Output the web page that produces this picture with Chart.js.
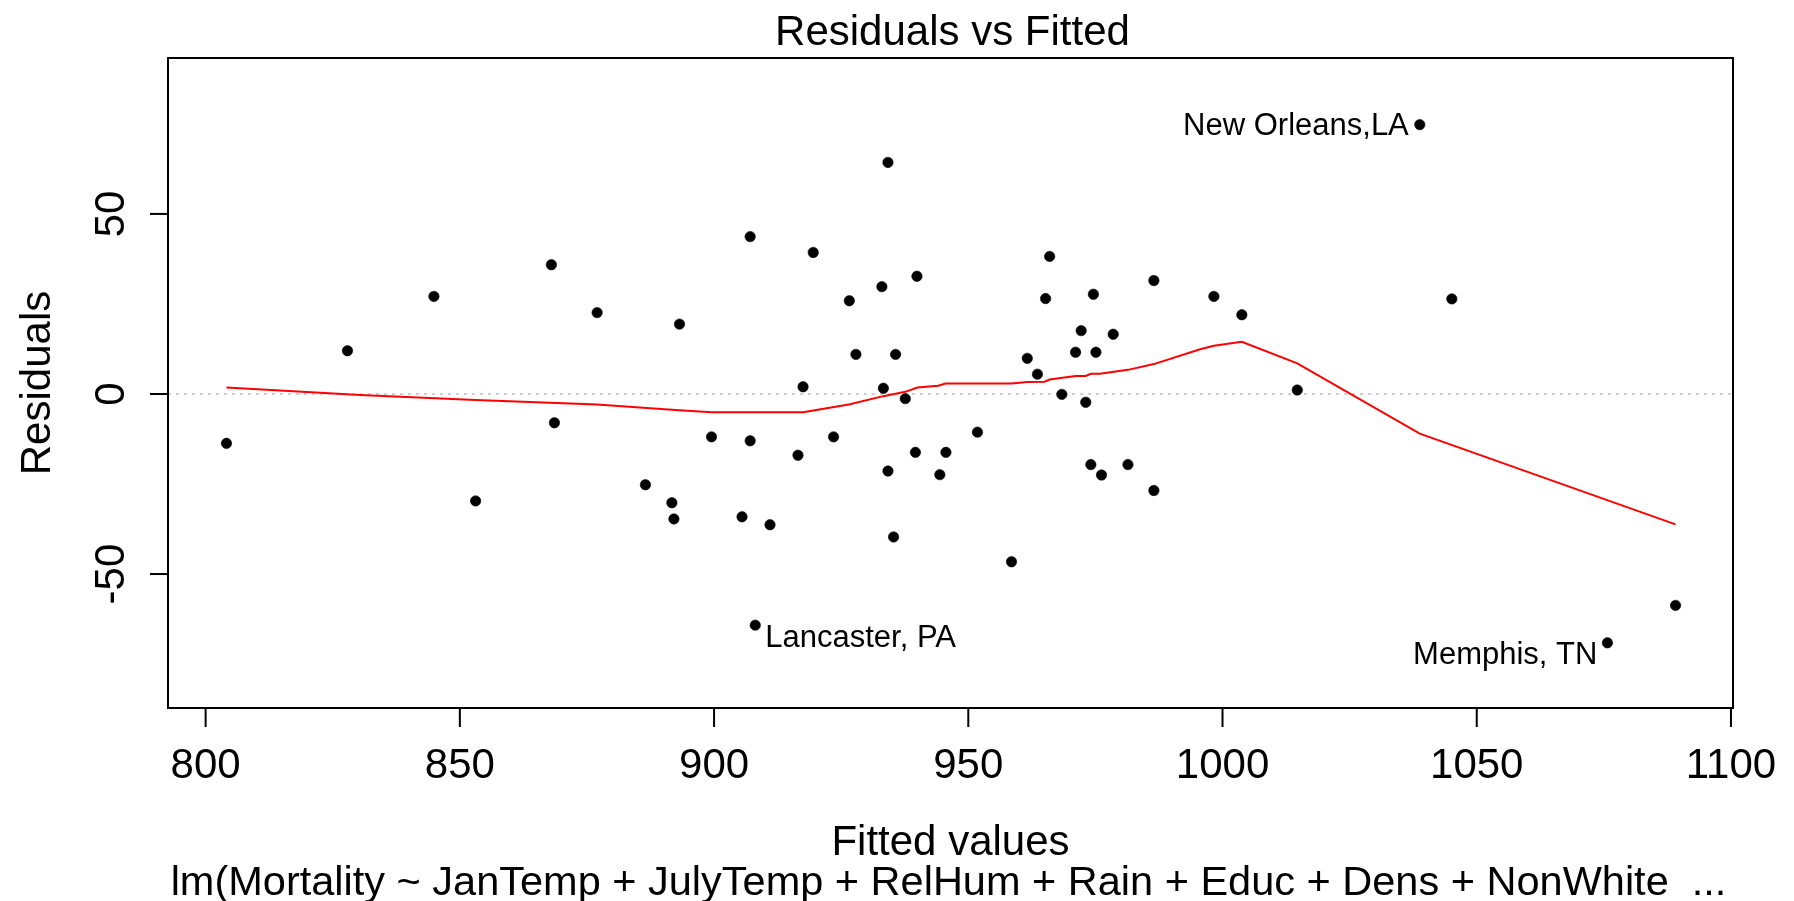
<!DOCTYPE html>
<html>
<head>
<meta charset="utf-8">
<title>Residuals vs Fitted</title>
<script src="https://cdn.jsdelivr.net/npm/chart.js@4.4.1/dist/chart.umd.min.js"></script>
<style>
  html, body { margin: 0; padding: 0; background: #fff; }
  #wrap { width: 1794px; height: 901px; position: relative; }
</style>
</head>
<body>
<div id="wrap"><canvas id="resid"></canvas></div>
<script>
/************************ model output *********************************/
const fittedValues = [
  804.1, 827.9, 844.9, 853.1, 868.0, 868.6, 877.0, 886.5, 891.7, 892.1,
  893.2, 899.5, 905.5, 907.1, 907.1, 908.1, 911.0, 916.5, 917.5, 919.5,
  923.5, 926.6, 927.9, 933.0, 933.3, 934.2, 934.2, 935.3, 935.7, 937.6,
  939.6, 939.9, 944.4, 945.6, 951.8, 958.5, 961.6, 963.6, 965.2, 966.0,
  968.4, 971.1, 972.2, 973.1, 974.1, 974.6, 975.1, 976.2, 978.5, 981.4,
  986.5, 986.5, 998.3, 1003.8, 1014.7, 1038.8, 1045.1, 1075.7, 1089.1
];
const residuals = [
  -13.7, 12.0, 27.1, -29.7, 35.9, -8.0, 22.6, -25.2, -30.2, -34.7,
  19.4, -11.9, -34.1, 43.7, -13.0, -64.2, -36.3, -17.0, 2.0, 39.3,
  -11.9, 25.9, 11.0, 29.8, 1.6, 64.3, -21.4, -39.7, 11.0, -1.3,
  -16.2, 32.7, -22.4, -16.2, -10.6, -46.6, 9.9, 5.5, 26.5, 38.2,
  -0.1, 11.6, 17.6, -2.3, -19.6, 27.7, 11.6, -22.5, 16.6, -19.6,
  31.5, -26.8, 27.1, 22.0, 1.1, 74.8, 26.4, -69.1, -58.7
];

// smoother through the residuals
const smoothFitted = [
  804.1, 830.4, 853.1, 877.0, 891.7, 899.5, 917.5, 926.5, 933.3, 937.6,
  940.0, 944.1, 945.5, 958.5, 961.6, 965.0, 966.0, 971.1, 973.1, 974.1,
  975.9, 981.4, 986.5, 995.6, 998.3, 1003.8, 1014.7, 1038.8, 1089.1
];
const smoothResid = [
  1.8, -0.3, -1.7, -2.9, -4.4, -5.1, -5.1, -2.9, -0.6, 0.6,
  1.8, 2.3, 2.9, 2.9, 3.3, 3.4, 4.0, 5.0, 5.0, 5.6,
  5.6, 6.7, 8.3, 12.4, 13.4, 14.5, 8.5, -11.0, -36.2
];

// the three largest residuals get named
const idIndex = [55, 15, 57];
const idNames = ["New Orleans,LA", "Lancaster, PA", "Memphis, TN"];

const xTicks = [800, 850, 900, 950, 1000, 1050, 1100];
const yTicks = [-50, 0, 50];

const mainTitle = "Residuals vs Fitted";
const xTitle = "Fitted values";
const yTitle = "Residuals";
const subTitle = "lm(Mortality ~ JanTemp + JulyTemp + RelHum + Rain + Educ + Dens + NonWhite  ...";

/************************ drawing helpers *********************************/
const FONT = '"Liberation Sans", Arial, Helvetica, sans-serif';

// label side/offset per identified point (left of the dot or right of it)
const idStyle = [
  { side: "left", dx: 11, dy: 10 },
  { side: "right", dx: 10, dy: 22 },
  { side: "left", dx: 10, dy: 21 }
];

const rPlotDecor = {
  id: "rPlotDecor",
  beforeDatasetsDraw(chart) {
    // dotted zero line
    const { ctx, chartArea: a, scales } = chart;
    const y0 = scales.y.getPixelForValue(0);
    ctx.save();
    ctx.strokeStyle = "#bebebe";
    ctx.lineWidth = 1.5;
    ctx.setLineDash([3, 5]);
    ctx.beginPath();
    ctx.moveTo(a.left, y0);
    ctx.lineTo(a.right, y0);
    ctx.stroke();
    ctx.restore();
  },
  afterDraw(chart) {
    const { ctx, chartArea: a, scales } = chart;
    const xs = scales.x, ys = scales.y;
    const cx = (a.left + a.right) / 2;
    ctx.save();
    ctx.strokeStyle = "#000";
    ctx.fillStyle = "#000";
    ctx.lineWidth = 2;

    // box
    ctx.strokeRect(a.left, a.top, a.right - a.left, a.bottom - a.top);

    // x axis ticks + labels
    ctx.font = "42px " + FONT;
    ctx.textAlign = "center";
    ctx.textBaseline = "alphabetic";
    xTicks.forEach(v => {
      const px = xs.getPixelForValue(v);
      ctx.beginPath();
      ctx.moveTo(px, a.bottom);
      ctx.lineTo(px, a.bottom + 19);
      ctx.stroke();
      ctx.fillText(String(v), px, 778);
    });

    // y axis ticks + rotated labels
    yTicks.forEach(v => {
      const py = ys.getPixelForValue(v);
      ctx.beginPath();
      ctx.moveTo(a.left, py);
      ctx.lineTo(a.left - 18, py);
      ctx.stroke();
      ctx.save();
      ctx.translate(124, py);
      ctx.rotate(-Math.PI / 2);
      ctx.fillText(String(v), 0, 0);
      ctx.restore();
    });

    // titles
    ctx.fillText(mainTitle, cx + 2, 45);
    ctx.fillText(xTitle, cx, 855);
    ctx.font = "41.5px " + FONT;
    ctx.fillText(subTitle, cx - 2, 895);
    ctx.font = "42px " + FONT;
    ctx.save();
    ctx.translate(50, (a.top + a.bottom) / 2);
    ctx.rotate(-Math.PI / 2);
    ctx.fillText(yTitle, 0, 0);
    ctx.restore();

    // point ids
    ctx.font = "31px " + FONT;
    idIndex.forEach((k, j) => {
      const st = idStyle[j];
      const px = xs.getPixelForValue(fittedValues[k]);
      const py = ys.getPixelForValue(residuals[k]);
      ctx.textAlign = st.side === "left" ? "right" : "left";
      const tx = st.side === "left" ? px - st.dx : px + st.dx;
      ctx.fillText(idNames[j], tx, py + st.dy);
    });
    ctx.restore();
  }
};

/************************* CHART INITIALIZATION ******************************/
const points = fittedValues.map((v, i) => ({ x: v, y: residuals[i] }));
const smooth = smoothFitted.map((v, i) => ({ x: v, y: smoothResid[i] }));

const ctx = document.getElementById("resid").getContext("2d");
const residChart = new Chart(ctx, {
  type: "scatter",
  data: {
    datasets: [
      {
        label: "smooth",
        data: smooth,
        showLine: true,
        borderColor: "#ff0000",
        borderWidth: 2,
        pointRadius: 0,
        fill: false,
        tension: 0,
        order: 0
      },
      {
        label: "residuals",
        data: points,
        backgroundColor: "#000",
        borderColor: "#000",
        borderWidth: 0.6,
        pointRadius: 5.2,
        order: 1
      }
    ]
  },
  options: {
    responsive: true,
    maintainAspectRatio: false,
    devicePixelRatio: 1,
    animation: false,
    layout: {
      padding: { left: 168, top: 58, right: 61, bottom: 193 }
    },
    plugins: {
      legend: { display: false },
      tooltip: { enabled: false },
      title: { display: false }
    },
    scales: {
      x: { type: "linear", display: false, min: 792.6, max: 1100.4 },
      y: { type: "linear", display: false, min: -87.2, max: 93.3 }
    }
  },
  plugins: [rPlotDecor]
});
</script>
</body>
</html>
